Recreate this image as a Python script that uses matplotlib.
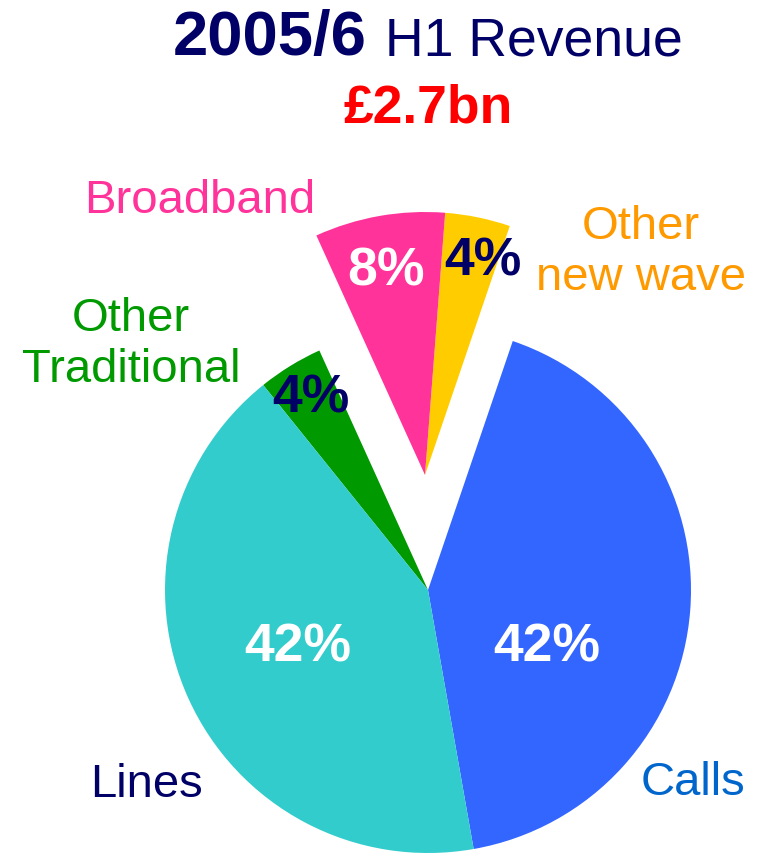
import matplotlib.pyplot as plt

# H1 revenue split, 2005/6
categories = ["Calls", "Other\nnew wave", "Broadband", "Other\nTraditional", "Lines"]
shares = [42, 4, 8, 4, 42]
wedge_colors = ["#3366FF", "#FFCC00", "#FF3399", "#009900", "#33CCCC"]
label_colors = ["#0066CC", "#FF9900", "#FF3399", "#009900", "#000066"]
pct_colors = ["white", "#000066", "white", "#000066", "white"]
new_wave = ["Other\nnew wave", "Broadband"]  # pulled out together

W, H = 758, 855
CX, CY, R = 428, 590, 263
LIFT = (-3, 115)

# label / percentage positions (x, baseline y of last line, from top)
label_pos = [(693, 795), (641, 290), (200, 213), (131, 382), (147, 797)]
pct_pos = [(547, 662), (483, 275), (386, 285), (311, 412), (298, 662)]


def py(y):
    return H - y


plt.rcParams["font.family"] = ["Liberation Sans", "DejaVu Sans"]

fig = plt.figure(figsize=(W / 100, H / 100), dpi=100)
ax = fig.add_axes([0, 0, 1, 1])

wedges, _ = ax.pie(shares, colors=wedge_colors, startangle=-80, counterclock=True,
                   center=(CX, py(CY)), radius=R,
                   wedgeprops=dict(linewidth=0, antialiased=True))

for w, name in zip(wedges, categories):
    if name in new_wave:
        w.set_center((CX + LIFT[0], py(CY) + LIFT[1]))

for name, col, (x, y) in zip(categories, label_colors, label_pos):
    ax.text(x, py(y), name, color=col, fontsize=34, ha="center", va="baseline",
            multialignment="center", linespacing=1.2)

for v, col, (x, y) in zip(shares, pct_colors, pct_pos):
    ax.text(x, py(y), f"{v}%", color=col, fontsize=38.5, fontweight="bold",
            ha="center", va="baseline")

ax.text(367, py(55), "2005/6", color="#000066", fontsize=45.5, fontweight="bold",
        ha="right", va="baseline")
ax.text(385, py(55), "H1 Revenue", color="#000066", fontsize=38.5,
        ha="left", va="baseline")
ax.text(428, py(122), "£2.7bn", color="#FF0000", fontsize=38.5, fontweight="bold",
        ha="center", va="baseline")

ax.set_xlim(0, W)
ax.set_ylim(0, H)
ax.set_aspect("equal")
ax.axis("off")

fig.savefig("out.png", dpi=100, facecolor="white")
